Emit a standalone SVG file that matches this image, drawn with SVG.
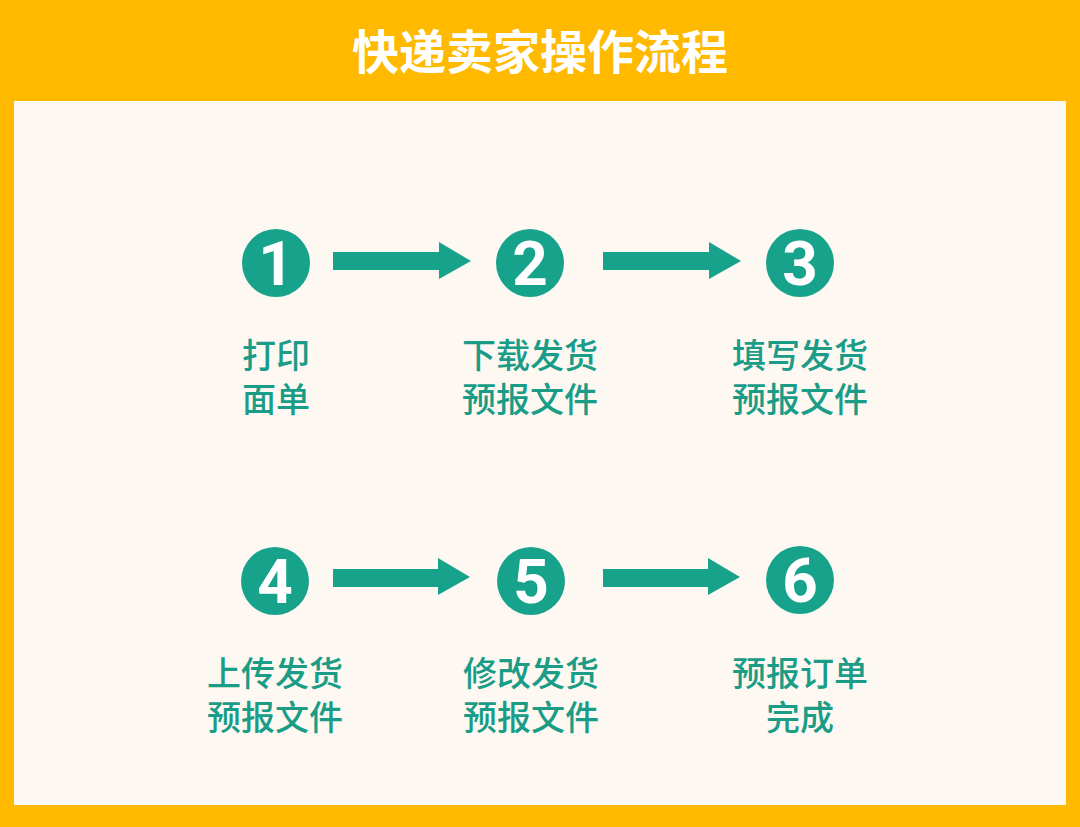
<svg xmlns="http://www.w3.org/2000/svg" width="1080" height="827" viewBox="0 0 1080 827">
<defs>
<style>
.title{font-family:"Noto Sans CJK SC","Noto Sans",sans-serif;font-size:47px;font-weight:700;fill:#ffffff;text-anchor:middle}
.circ{fill:#17a28b}
.num{font-family:Roboto,"Liberation Sans",sans-serif;font-size:62px;font-weight:700;fill:#ffffff;text-anchor:middle}
.lbl{font-family:"Noto Sans CJK SC","Noto Sans",sans-serif;font-size:34px;font-weight:500;fill:#1a9c87;text-anchor:middle}
.arrow{fill:#17a28b}
</style>
</defs>
<rect x="0" y="0" width="1080" height="827" fill="#ffba00"/>
<rect x="14" y="101" width="1052" height="704" fill="#fdf9f2"/>
<text class="title" x="540" y="69">快递卖家操作流程</text>
<g id="connectors">
<polygon class="arrow" points="333,252 439,252 439,242 471,261 439,279 439,270 333,270"/>
<polygon class="arrow" points="603,252 709,252 709,242 741,261 709,279 709,270 603,270"/>
<polygon class="arrow" points="333,569 438,569 438,558 470,577 438,595 438,587 333,587"/>
<polygon class="arrow" points="603,569 708,569 708,558 740,577 708,595 708,587 603,587"/>
</g>
<g id="n1"><circle class="circ" cx="276" cy="263" r="34"/><text class="num" x="276" y="285">1</text>
<text class="lbl" x="276" y="368">打印</text><text class="lbl" x="276" y="412">面单</text></g>
<g id="n2"><circle class="circ" cx="530" cy="263" r="34"/><text class="num" x="530" y="285">2</text>
<text class="lbl" x="530" y="368">下载发货</text><text class="lbl" x="530" y="412">预报文件</text></g>
<g id="n3"><circle class="circ" cx="800" cy="263" r="34"/><text class="num" x="800" y="285">3</text>
<text class="lbl" x="800" y="368">填写发货</text><text class="lbl" x="800" y="412">预报文件</text></g>
<g id="n4"><circle class="circ" cx="275" cy="581" r="34"/><text class="num" x="275" y="603">4</text>
<text class="lbl" x="275" y="686">上传发货</text><text class="lbl" x="275" y="730">预报文件</text></g>
<g id="n5"><circle class="circ" cx="531" cy="581" r="34"/><text class="num" x="531" y="603">5</text>
<text class="lbl" x="531" y="686">修改发货</text><text class="lbl" x="531" y="730">预报文件</text></g>
<g id="n6"><circle class="circ" cx="800" cy="580" r="34"/><text class="num" x="800" y="602">6</text>
<text class="lbl" x="800" y="686">预报订单</text><text class="lbl" x="800" y="730">完成</text></g>
</svg>
